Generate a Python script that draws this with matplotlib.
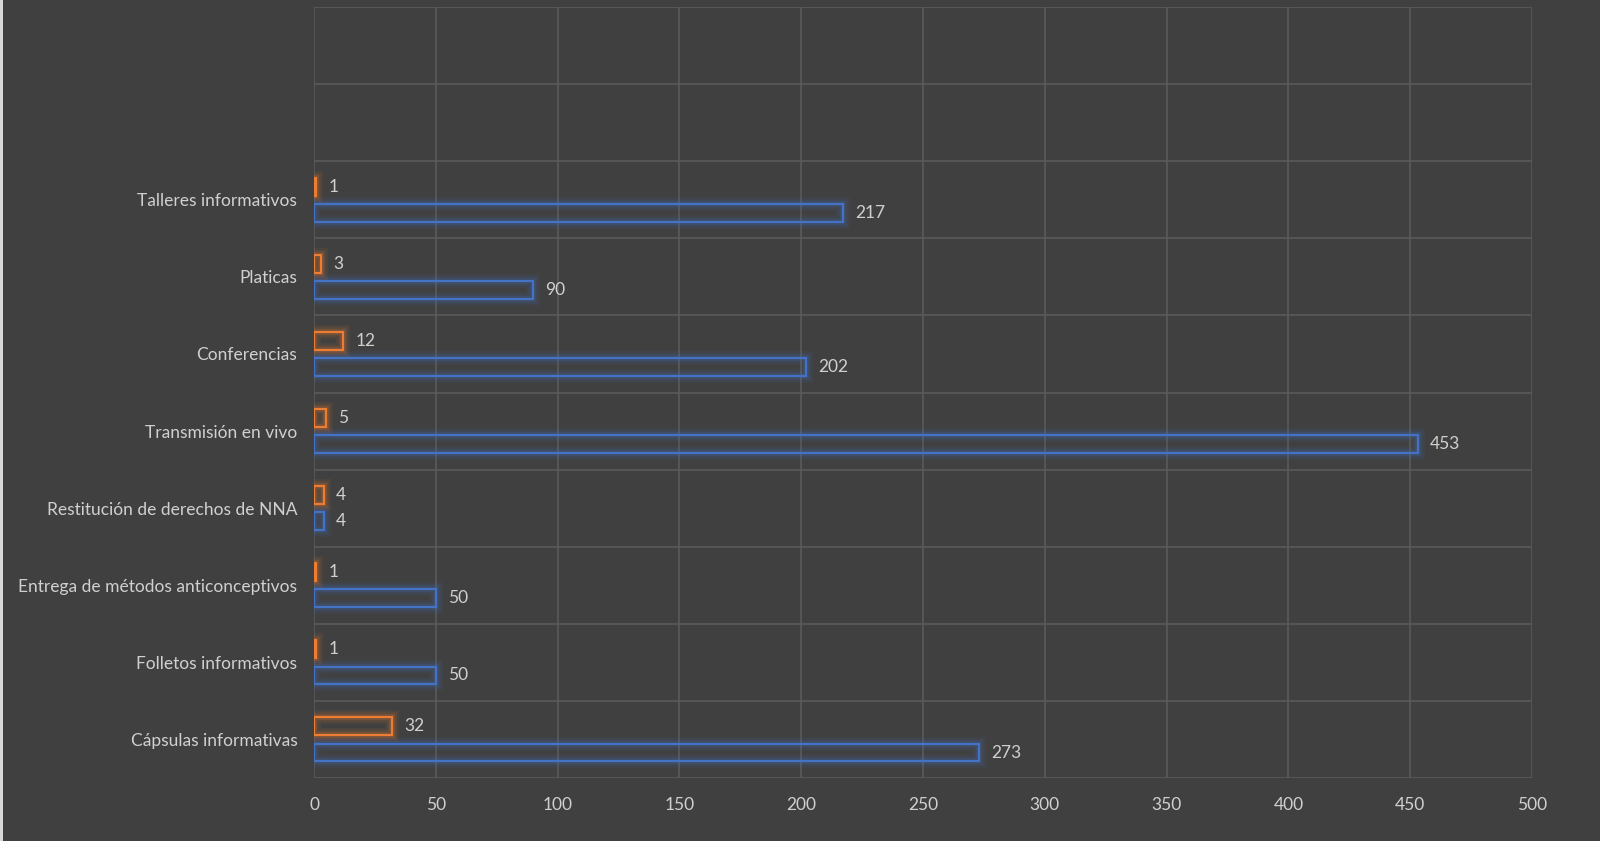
import numpy as np
import matplotlib.pyplot as plt
from matplotlib.patches import Rectangle

categorias = ["Cápsulas informativas", "Folletos informativos",
              "Entrega de métodos anticonceptivos", "Restitución de derechos de NNA",
              "Transmisión en vivo", "Conferencias", "Platicas", "Talleres informativos",
              "", ""]
serie_azul = [273, 50, 50, 4, 453, 202, 90, 217, None, None]
serie_naranja = [32, 1, 1, 4, 5, 12, 3, 1, None, None]

bg = "#404040"
grid_c = "#5a5a5a"
text_c = "#d0d0d0"
azul = "#4472C4"
naranja = "#ED7D31"

plt.rcParams['font.family'] = ['Lato', 'DejaVu Sans']

fig = plt.figure(figsize=(16, 8.41), dpi=100, facecolor=bg)
ax = fig.add_axes([314/1600, 1 - 778/841, (1532-314)/1600, (778-7)/841])
ax.set_facecolor(bg)

h = 0.23
off = 0.17
y = np.arange(len(categorias))


def glow_bar(ax, yc, val, color):
    # capas de brillo alrededor del contorno
    for lw, a in [(10, 0.07), (7, 0.10), (4.5, 0.16)]:
        ax.add_patch(Rectangle((0, yc - h/2), val, h, fill=False, edgecolor=color,
                               linewidth=lw, alpha=a, zorder=2))
    ax.add_patch(Rectangle((0, yc - h/2), val, h, fill=False, edgecolor=color,
                           linewidth=1.6, zorder=3))


for i in range(len(categorias)):
    if serie_azul[i] is not None:
        glow_bar(ax, y[i] - off, serie_azul[i], azul)
        ax.text(serie_azul[i] + 5, y[i] - off, str(serie_azul[i]), va="center",
                ha="left", color=text_c, fontsize=12.5)
    if serie_naranja[i] is not None:
        glow_bar(ax, y[i] + off, serie_naranja[i], naranja)
        ax.text(serie_naranja[i] + 5, y[i] + off, str(serie_naranja[i]), va="center",
                ha="left", color=text_c, fontsize=12.5)

ax.set_xlim(0, 500)
ax.set_ylim(-0.5, len(categorias) - 0.5)
ax.set_xticks(np.arange(0, 501, 50))
ax.set_yticks(y)
ax.set_yticklabels(categorias)
ax.set_yticks(np.arange(-0.5, len(categorias), 1), minor=True)
ax.grid(axis="x", which="major", color=grid_c, linewidth=1.2)
ax.grid(axis="y", which="minor", color=grid_c, linewidth=1.2)
ax.grid(axis="y", which="major", visible=False)
ax.set_axisbelow(True)
for s in ax.spines.values():
    s.set_visible(False)
ax.tick_params(axis="both", which="both", length=0, colors=text_c, labelsize=12.5)
ax.tick_params(axis="x", pad=14)
ax.tick_params(axis="y", pad=12)

fig.add_artist(Rectangle((0, 0), 3/1600, 1, transform=fig.transFigure,
                         facecolor="#d9d9d9", edgecolor="none"))

fig.savefig("out.png", dpi=100, facecolor=bg)
